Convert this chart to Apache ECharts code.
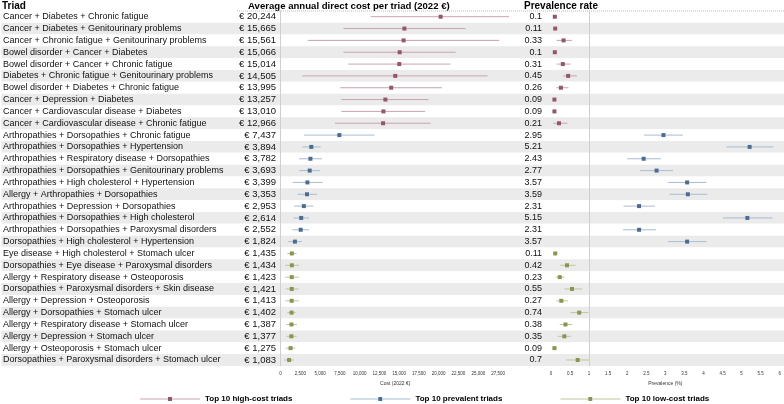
<!DOCTYPE html>
<html><head><meta charset="utf-8">
<script src="https://cdn.jsdelivr.net/npm/echarts@6/dist/echarts.min.js"></script>
<style>html,body{margin:0;padding:0;background:#fff}#c{width:784px;height:404px}</style>
</head><body><div id="c"></div>
<script>
var triads = [
"Cancer + Diabetes + Chronic fatigue",
"Cancer + Diabetes + Genitourinary problems",
"Cancer + Chronic fatigue + Genitourinary problems",
"Bowel disorder + Cancer + Diabetes",
"Bowel disorder + Cancer + Chronic fatigue",
"Diabetes + Chronic fatigue + Genitourinary problems",
"Bowel disorder + Diabetes + Chronic fatigue",
"Cancer + Depression + Diabetes",
"Cancer + Cardiovascular disease + Diabetes",
"Cancer + Cardiovascular disease + Chronic fatigue",
"Arthropathies + Dorsopathies + Chronic fatigue",
"Arthropathies + Dorsopathies + Hypertension",
"Arthropathies + Respiratory disease + Dorsopathies",
"Arthropathies + Dorsopathies + Genitourinary problems",
"Arthropathies + High cholesterol + Hypertension",
"Allergy + Arthropathies + Dorsopathies",
"Arthropathies + Depression + Dorsopathies",
"Arthropathies + Dorsopathies + High cholesterol",
"Arthropathies + Dorsopathies + Paroxysmal disorders",
"Dorsopathies + High cholesterol + Hypertension",
"Eye disease + High cholesterol + Stomach ulcer",
"Dorsopathies + Eye disease + Paroxysmal disorders",
"Allergy + Respiratory disease + Osteoporosis",
"Dorsopathies + Paroxysmal disorders + Skin disease",
"Allergy + Depression + Osteoporosis",
"Allergy + Dorsopathies + Stomach ulcer",
"Allergy + Respiratory disease + Stomach ulcer",
"Allergy + Depression + Stomach ulcer",
"Allergy + Osteoporosis + Stomach ulcer",
"Dorsopathies + Paroxysmal disorders + Stomach ulcer"];
var costMean = [20244,15665,15561,15066,15014,14505,13995,13257,13010,12966,7437,3894,3782,3693,3399,3353,2953,2614,2552,1824,1435,1434,1423,1421,1413,1402,1387,1377,1275,1083];
var costLo = [11400,7950,3440,7950,8580,2760,7560,7690,7690,6890,2970,2760,2340,2380,1540,2170,1710,1660,1500,990,860,610,610,650,610,860,740,740,650,440];
var costHi = [28900,23400,27650,22150,21470,26180,20400,18730,18270,18980,11900,5080,5240,4990,5330,4610,4150,3600,3600,2680,2040,2340,2340,2300,2340,1920,2090,2040,1880,1710];
var prevalence = [0.1,0.11,0.33,0.1,0.31,0.45,0.26,0.09,0.09,0.21,2.95,5.21,2.43,2.77,3.57,3.59,2.31,5.15,2.31,3.57,0.11,0.42,0.23,0.55,0.27,0.74,0.38,0.35,0.09,0.7];
var prevLo = [0.06,0.07,0.15,0.06,0.15,0.32,0.14,0.05,0.05,0.06,2.44,4.6,2.0,2.33,3.07,3.11,1.9,4.51,1.89,3.07,0.06,0.24,0.12,0.35,0.14,0.51,0.23,0.18,0.04,0.4];
var prevHi = [0.16,0.16,0.55,0.16,0.51,0.68,0.46,0.13,0.13,0.43,3.46,5.84,2.88,3.2,4.08,4.1,2.73,5.81,2.76,4.08,0.17,0.64,0.36,0.82,0.45,0.98,0.56,0.52,0.16,1.0];
var groupNames = ["Top 10 high-cost triads","Top 10 prevalent triads","Top 10 low-cost triads"];
var groupStart = [0,10,20];
var groupSize = 10;
var costTicks = {min:0, max:29000, interval:2500};
var prevTicks = {min:0, max:6, interval:0.5};

var markColors = ['#93566f','#4d6d90','#8b9452'];
var lineColors = ['#c9a3b3','#a8bcd1','#c0c59a'];
var FONT = '"Liberation Sans", Arial, sans-serif';
var TOP = 10.8, H = 355.1;

function fmt(n){ return n.toLocaleString('en-US'); }

function forest(g){
  return function(params, api){
    var y = api.value(3);
    var pm = api.coord([api.value(0), y]);
    var pl = api.coord([api.value(1), y]);
    var ph = api.coord([api.value(2), y]);
    var s = 4;
    return {type:'group', children:[
      {type:'line', shape:{x1:pl[0], y1:pl[1], x2:ph[0], y2:ph[1]}, style:{stroke:lineColors[g], lineWidth:1}},
      {type:'rect', shape:{x:pm[0]-s/2, y:pm[1]-s/2, width:s, height:s}, style:{fill:markColors[g]}}
    ]};
  };
}

var series = [];
for (var g=0; g<3; g++){
  var dc = [], dp = [];
  for (var k=0; k<groupSize; k++){
    var i = groupStart[g]+k;
    dc.push([costMean[i], costLo[i], costHi[i], i]);
    dp.push([prevalence[i], prevLo[i], prevHi[i], i]);
  }
  series.push({type:'custom', name:groupNames[g], xAxisIndex:1, yAxisIndex:1, data:dc,
    encode:{x:[0,1,2], y:3}, renderItem:forest(g), itemStyle:{color:markColors[g]}, z:5, silent:true});
  series.push({type:'custom', name:groupNames[g], xAxisIndex:2, yAxisIndex:2, data:dp,
    encode:{x:[0,1,2], y:3}, renderItem:forest(g), itemStyle:{color:markColors[g]}, z:5, silent:true});
}
series.push({type:'scatter', name:'ref', xAxisIndex:2, yAxisIndex:2, data:[], silent:true,
  markLine:{silent:true, symbol:'none', label:{show:false},
    lineStyle:{color:'#cfcfcf', type:'solid', width:1}, data:[{xAxis:1}]}});

function legendIcon(g){
  return {name:groupNames[g], icon:'path://M0,1.5H60V2.5H0Z M28,0H32V4H28Z',
    itemStyle:{color:new echarts.graphic.LinearGradient(0,0,1,0,[
      {offset:0,color:lineColors[g]},{offset:0.466,color:lineColors[g]},
      {offset:0.467,color:markColors[g]},{offset:0.533,color:markColors[g]},
      {offset:0.534,color:lineColors[g]},{offset:1,color:lineColors[g]}])}};
}

var chart = echarts.init(document.getElementById('c'), null, {renderer:'canvas'});
var axisTxt = {fontFamily:FONT, fontSize:4.5, color:'#333'};
var headStyle = {fontFamily:FONT, fontSize:10, fontWeight:'bold', color:'#000'};
chart.setOption({
  animation:false,
  textStyle:{fontFamily:FONT},
  title:[
    {text:'Triad', left:2, top:1, padding:0, textStyle:headStyle},
    {text:'Average annual direct cost per triad (2022 €)', left:248, top:1, padding:0, textStyle:Object.assign({}, headStyle, {fontSize:9.6})},
    {text:'Prevalence rate', left:524, top:1, padding:0, textStyle:headStyle}
  ],
  graphic:[{type:'line', shape:{x1:237, y1:11, x2:784, y2:11}, style:{stroke:'#bdbdbd', lineWidth:1, lineDash:[1,1]}, z:10}],
  legend:{left:135, top:390, itemWidth:60, itemHeight:4, itemGap:58,
    textStyle:{fontFamily:FONT, fontSize:8, fontWeight:'bold', color:'#000'},
    data:[legendIcon(0), legendIcon(1), legendIcon(2)], selectedMode:false},
  grid:[
    {left:0, right:0, top:TOP, height:H},
    {left:280.5, width:229.4, top:TOP, height:H},
    {left:551, width:231, top:TOP, height:H}
  ],
  xAxis:[
    {gridIndex:0, type:'value', show:false, min:0, max:1},
    {gridIndex:1, type:'value', min:costTicks.min, max:costTicks.max, interval:costTicks.interval,
      name:'Cost (2022 €)', nameLocation:'middle', nameGap:14, nameTextStyle:{fontFamily:FONT, fontSize:5, color:'#333'},
      axisLine:{lineStyle:{color:'#555', width:1}}, axisTick:{length:2, lineStyle:{color:'#555'}},
      axisLabel:Object.assign({margin:5, showMaxLabel:false, formatter:function(v){return v % costTicks.interval===0 ? fmt(v) : '';}}, axisTxt),
      splitLine:{show:false}},
    {gridIndex:2, type:'value', min:prevTicks.min, max:prevTicks.max, interval:prevTicks.interval,
      name:'Prevalence (%)', nameLocation:'middle', nameGap:14, nameTextStyle:{fontFamily:FONT, fontSize:5, color:'#333'},
      axisLine:{lineStyle:{color:'#555', width:1}}, axisTick:{length:2, lineStyle:{color:'#555'}},
      axisLabel:Object.assign({margin:5}, axisTxt),
      splitLine:{show:false}}
  ],
  yAxis:[
    {gridIndex:0, type:'category', data:triads, inverse:true,
      axisLine:{show:false}, axisTick:{show:false},
      axisLabel:{inside:true, interval:0, margin:1.7, align:'left', fontFamily:FONT, fontSize:9, color:'#111'},
      splitArea:{show:true, interval:0, areaStyle:{color:['#ffffff','#ebebeb']}}, splitLine:{show:false}},
    {gridIndex:1, type:'category', data:triads, inverse:true,
      axisLine:{show:true, lineStyle:{color:'#cfcfcf', width:1}}, axisTick:{show:false},
      axisLabel:{interval:0, margin:4.5, fontFamily:FONT, fontSize:9.5, color:'#111',
        formatter:function(v, idx){ return '€ ' + fmt(costMean[idx]); }},
      splitLine:{show:false}},
    {gridIndex:2, type:'category', data:triads, inverse:true,
      axisLine:{show:false}, axisTick:{show:false},
      axisLabel:{interval:0, margin:9, fontFamily:FONT, fontSize:9, color:'#111',
        formatter:function(v, idx){ return String(prevalence[idx]); }},
      splitLine:{show:false}}
  ],
  series:series
});
</script></body></html>
